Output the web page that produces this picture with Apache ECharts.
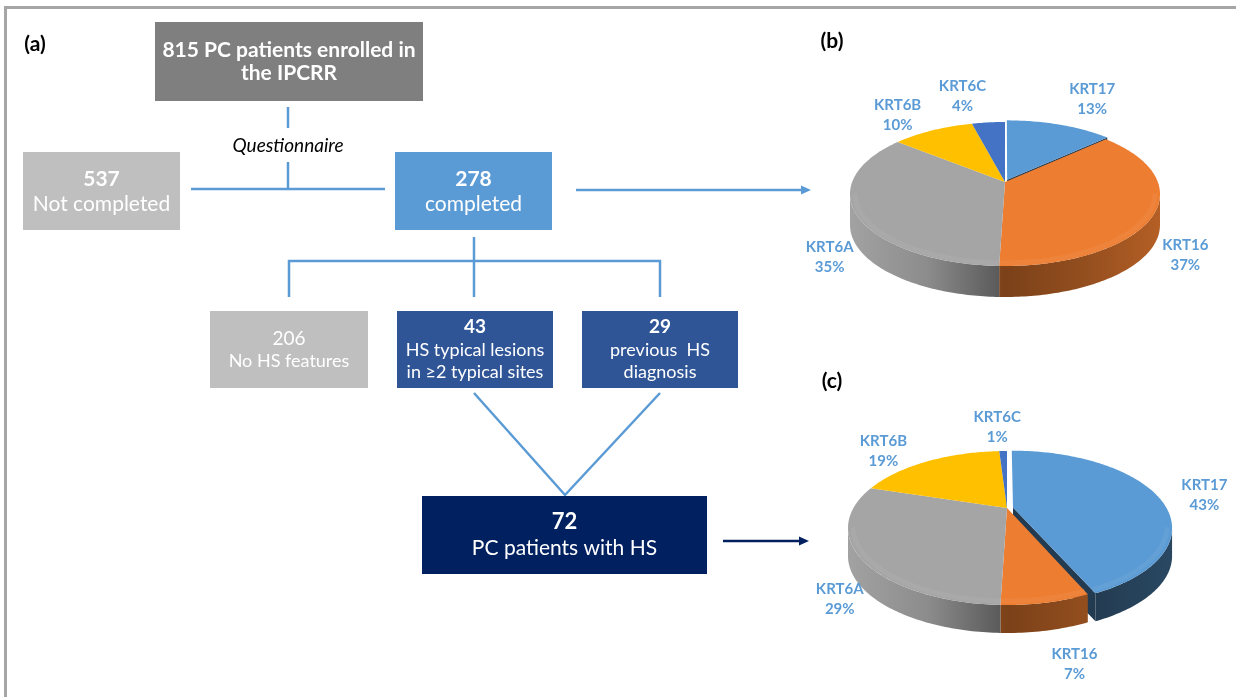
<!DOCTYPE html>
<html>
<head>
<meta charset="utf-8">
<script src="https://cdn.jsdelivr.net/npm/echarts@6/dist/echarts.min.js"></script>
<style>
  html, body { margin: 0; padding: 0; background: #ffffff; }
  #chart { width: 1236px; height: 697px; }
</style>
</head>
<body>
<div id="chart"></div>
<script>
// Keratin gene shares (%): (b) all questionnaire respondents, (c) patients with HS
const keratinGenes = ['KRT17', 'KRT16', 'KRT6A', 'KRT6B', 'KRT6C'];
const completedShares = [13, 37, 35, 10, 4];
const hsShares = [43, 7, 29, 19, 1];

// Patient counts at each step of the flow
const enrolledCount = 815;
const notCompletedCount = 537;
const completedCount = 278;
const noFeatureCount = 206;
const typicalLesionCount = 43;
const priorDiagnosisCount = 29;
const hsPatientCount = 72;

const sliceColors = ['#5b9bd5', '#ed7d31', '#a5a5a5', '#ffc000', '#4472c4'];
const FONT = 'Lato';
const LINE_BLUE = '#5b9bd5';
const NAVY = '#002060';

// ---------- flow diagram helpers ----------
function box(x, y, w, h, fill) {
  return { type: 'rect', silent: true, shape: { x, y, width: w, height: h }, style: { fill } };
}
function txt(text, x, y, font, fill) {
  return {
    type: 'text', silent: true, x, y,
    style: { text, font: font + ' ' + FONT, fill: fill || '#ffffff', align: 'center', verticalAlign: 'middle' }
  };
}
function seg(x1, y1, x2, y2, stroke, w) {
  return { type: 'line', silent: true, shape: { x1, y1, x2, y2 }, style: { stroke: stroke || LINE_BLUE, lineWidth: w || 2.5 } };
}
function poly(points, stroke) {
  return { type: 'polyline', silent: true, shape: { points }, style: { stroke: stroke || LINE_BLUE, lineWidth: 2.5, fill: null } };
}
function head(x, y, fill) {
  return { type: 'polygon', silent: true, shape: { points: [[x - 10, y - 4.5], [x, y], [x - 10, y + 4.5]] }, style: { fill } };
}

const flowElements = [
  // frame
  seg(4, 7.5, 1236, 7.5, '#a6a6a6', 3),
  seg(5.5, 6, 5.5, 697, '#a6a6a6', 3),
  // panel letters
  txt('(a)', 35, 44, 'bold 21px', '#000000'),
  txt('(b)', 832, 41, 'bold 21px', '#000000'),
  txt('(c)', 832, 381, 'bold 21px', '#000000'),

  // enrolled
  box(155, 22, 268, 79, '#7f7f7f'),
  txt(enrolledCount + ' PC patients enrolled in', 289, 50, 'bold 21px'),
  txt('the IPCRR', 289, 73, 'bold 21px'),
  seg(288, 107, 288, 128),
  txt('Questionnaire', 288, 146, 'italic 19px', '#000000'),
  seg(288, 162, 288, 189),
  seg(191, 189, 385, 189),

  // not completed / completed
  box(23, 152, 157, 78, '#bfbfbf'),
  txt(String(notCompletedCount), 101.5, 179, 'bold 21px'),
  txt('Not completed', 101.5, 204, '21px'),
  box(395, 152, 157, 78, '#5b9bd5'),
  txt(String(completedCount), 473.5, 179, 'bold 21px'),
  txt('completed', 473.5, 204, '21px'),
  seg(576, 190, 803, 190),
  head(811, 190, LINE_BLUE),

  // split into three groups
  seg(474, 237, 474, 297),
  poly([[289, 297], [289, 261], [660, 261], [660, 297]]),

  box(210, 311, 158, 77, '#bfbfbf'),
  txt(String(noFeatureCount), 289, 339, '19px'),
  txt('No HS features', 289, 361, '18px'),

  box(397, 311, 156, 77, '#2f5597'),
  txt(String(typicalLesionCount), 475, 327, 'bold 19px'),
  txt('HS typical lesions', 475, 350, '18px'),
  txt('in \u22652 typical sites', 475, 372, '18px'),

  box(582, 311, 156, 77, '#2f5597'),
  txt(String(priorDiagnosisCount), 660, 327, 'bold 19px'),
  txt('previous  HS', 660, 350, '18px'),
  txt('diagnosis', 660, 372, '18px'),

  // merge into HS patients
  poly([[474, 393], [565, 495], [660, 393]]),
  box(422, 496, 285, 78, NAVY),
  txt(String(hsPatientCount), 564.5, 522, 'bold 22px'),
  txt('PC patients with HS', 564.5, 548, '21px'),
  seg(723, 541, 801, 541, NAVY, 2.5),
  head(809, 541, NAVY)
];

// ---------- 3-D pie drawn by a custom series ----------
const TAU = Math.PI * 2;
function shade(hex, f) {
  const n = parseInt(hex.slice(1), 16);
  const ch = [(n >> 16) & 255, (n >> 8) & 255, n & 255];
  const m = c => Math.max(0, Math.min(255, Math.round(f >= 1 ? c + (255 - c) * (f - 1) : c * f)));
  return 'rgb(' + ch.map(m).join(',') + ')';
}

function pie3d(shares, geo) {
  const total = shares.reduce((s, v) => s + v, 0);
  let acc = 0;
  const data = shares.map((v, i) => {
    const d = { name: keratinGenes[i], value: [v, acc] };
    acc += v;
    return d;
  });
  // projective map that keeps the unit circle but moves its centre (perspective)
  const k = Math.sqrt(1 - geo.a * geo.a);
  const P = (u, v) => {
    const d = 1 + geo.a * v;
    return [geo.cx + geo.rx * u * k / d, geo.cy + geo.ry * (v + geo.a) / d];
  };
  return {
    type: 'custom',
    coordinateSystem: 'none',
    silent: true,
    animation: false,
    data,
    renderItem(params, api) {
      const i = params.dataIndex;
      const val = api.value(0);
      const start = api.value(1);
      const t0 = start / total * TAU;
      const t1 = (start + val) / total * TAU;
      const tm = (t0 + t1) / 2;
      const e = geo.explode[i] || 0;
      const eu = e * Math.sin(tm), ev = -e * Math.cos(tm);
      const color = sliceColors[i];
      const rim = (t, r) => P((r || 1) * Math.sin(t) + eu, -(r || 1) * Math.cos(t) + ev);
      const arc = (a0, a1, r) => {
        const n = Math.max(2, Math.ceil((a1 - a0) / (Math.PI / 180)));
        const pts = [];
        for (let j = 0; j <= n; j++) pts.push(rim(a0 + (a1 - a0) * j / n, r));
        return pts;
      };
      const down = p => [p[0], p[1] + geo.depth];
      const apex = P(eu, ev);
      const children = [];

      // top face
      children.push({ type: 'polygon', shape: { points: [apex].concat(arc(t0, t1)) }, style: { fill: color }, z2: 3 });

      // visible curved wall
      const c = Math.max(-1, Math.min(1, geo.a + ev));
      const lo = Math.acos(c), hi = TAU - lo;
      const ws = Math.max(t0, lo), we = Math.min(t1, hi);
      if (we > ws) {
        const top = arc(ws, we);
        const f = e > 0 ? 0.6 : 1;
        const grad = new echarts.graphic.LinearGradient(geo.cx - geo.rx, 0, geo.cx + geo.rx, 0, [
          { offset: 0, color: shade(color, 0.98 * f) },
          { offset: 0.25, color: shade(color, 0.85 * f) },
          { offset: 0.5, color: shade(color, 0.52 * f) },
          { offset: 0.75, color: shade(color, 0.62 * f) },
          { offset: 1, color: shade(color, 0.76 * f) }
        ], true);
        children.push({
          type: 'polygon',
          shape: { points: top.concat(top.slice().reverse().map(down)) },
          style: { fill: grad }, z2: 2
        });
        // soft bevel along the front edge of the face
        children.push({
          type: 'polyline',
          shape: { points: arc(ws, we, 0.97) },
          style: { stroke: shade(color, 1.15), lineWidth: 5, opacity: 0.35, fill: null }, z2: 4
        });
      }

      // cut faces seen through the gap of a pulled-out slice
      if (e > 0) {
        if (Math.sin(t1) > 0) {
          const q = rim(t1);
          children.push({ type: 'polygon', shape: { points: [apex, q, down(q), down(apex)] }, style: { fill: shade(color, 0.38) }, z2: 1 });
        }
        if (Math.sin(t0) < 0) {
          const q = rim(t0);
          children.push({ type: 'polygon', shape: { points: [apex, q, down(q), down(apex)] }, style: { fill: shade(color, 0.38) }, z2: 1 });
        }
      }

      // label outside the slice
      const lr = 1.08;
      const ap = P(lr * Math.sin(tm) + eu, -lr * Math.cos(tm) + ev);
      const nd = geo.labelNudge[i];
      const lx = ap[0] + Math.sin(tm) * 22 + nd[0];
      const ly = ap[1] - Math.cos(tm) * 20 + (Math.cos(tm) < 0 ? geo.depth : 0) + nd[1];
      children.push({
        type: 'text', x: lx, y: ly, z2: 5,
        style: {
          text: keratinGenes[i] + '\n' + val + '%',
          font: 'bold 15px ' + FONT, fill: '#5b9bd5',
          align: 'center', verticalAlign: 'middle', lineHeight: 20
        }
      });
      return { type: 'group', children };
    }
  };
}

const chart = echarts.init(document.getElementById('chart'), null, { renderer: 'canvas' });
chart.setOption({
  backgroundColor: '#ffffff',
  animation: false,
  graphic: { elements: flowElements },
  series: [
    pie3d(completedShares, {
      cx: 1005, cy: 194, rx: 155, ry: 72, depth: 31, a: -0.167,
      explode: [0.035, 0, 0, 0, 0],
      labelNudge: [[20, -3], [-2, 0], [7, 2], [-18, 5], [-22, -2]]
    }),
    pie3d(hsShares, {
      cx: 1007, cy: 528, rx: 159, ry: 77, depth: 28, a: -0.26,
      explode: [0.04, 0, 0, 0, 0],
      labelNudge: [[17, 7], [20, 3], [12, -2], [-26, 9], [-5, 0]]
    })
  ]
});
</script>
</body>
</html>
